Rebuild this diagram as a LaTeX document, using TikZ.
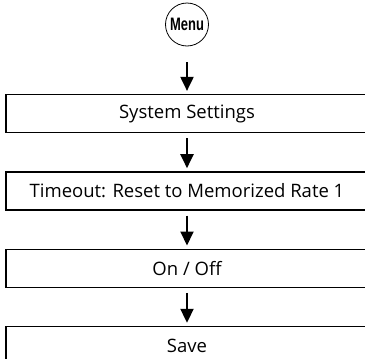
\documentclass[tikz,border=0pt]{standalone}
\usepackage{fontspec}
\setmainfont{Open Sans}
\newfontfamily\menufont[FakeStretch=0.72]{Liberation Sans}
\usetikzlibrary{shapes,arrows.meta,positioning}

\begin{document}
\begin{tikzpicture}[
    x=1pt, y=1pt,
    node distance=38pt,
    stepbox/.style={rectangle, draw, line width=1.3pt, minimum width=362pt, minimum height=38pt, inner sep=0pt, font=\fontsize{18.5}{22}\selectfont},
    menubutton/.style={circle, draw, line width=0.8pt, minimum size=43pt, inner sep=0pt, font=\menufont\bfseries\fontsize{18}{20}\selectfont},
    arrow/.style={-{Triangle[width=13pt,length=14pt]}, line width=2pt, shorten <=5pt, shorten >=3pt}
]
\useasboundingbox (0,0) rectangle (365,-359);
\node[menubutton] (menu) at (187,-24.5) {Menu};
\node[stepbox, below=47.5pt of menu] (settings) {System Settings};
\node[stepbox, below=of settings] (timeout) {Timeout: Reset to Memorized Rate 1};
\node[stepbox, below=of timeout] (onoff) {On / Off};
\node[stepbox, below=of onoff] (save) {Save};

\draw[arrow, shorten <=16pt] (menu) -- (settings);
\draw[arrow] (settings) -- (timeout);
\draw[arrow] (timeout) -- (onoff);
\draw[arrow] (onoff) -- (save);
\end{tikzpicture}
\end{document}
